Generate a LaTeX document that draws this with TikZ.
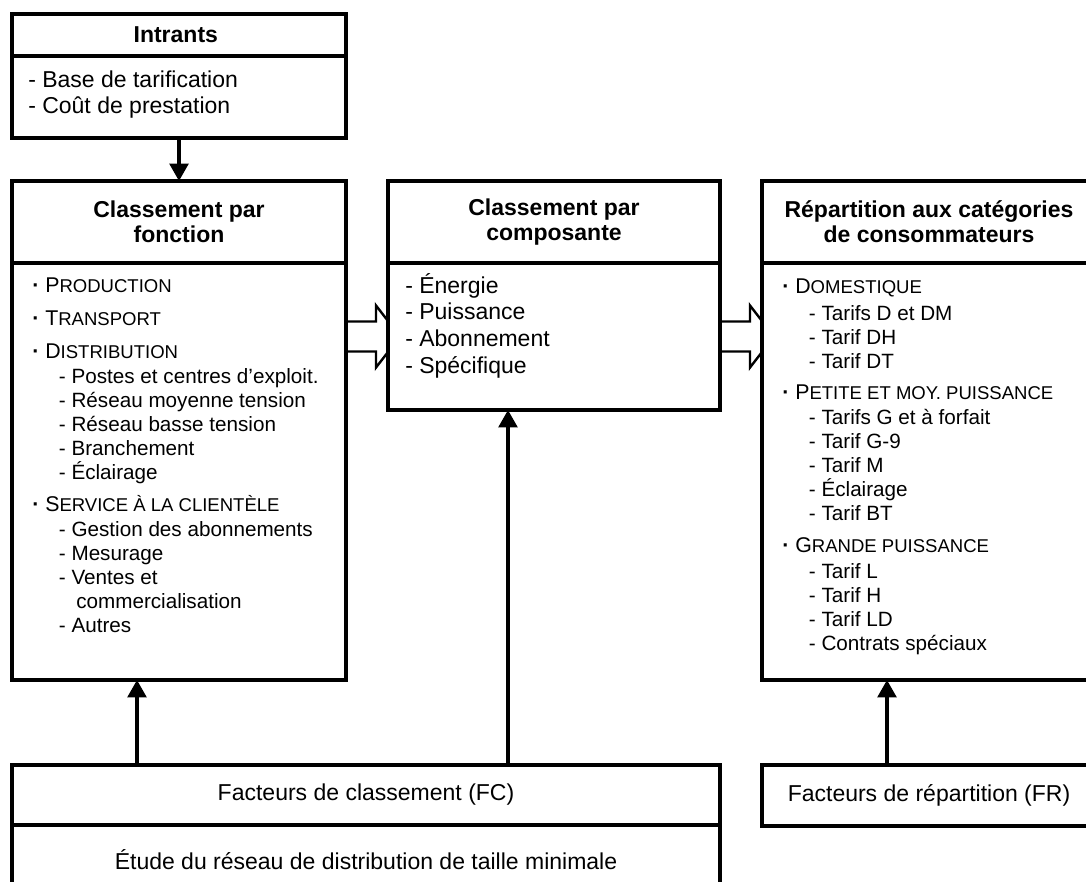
\documentclass[tikz,border=0pt]{standalone}
\usepackage{fontspec}
\setmainfont{Liberation Sans}
\usepackage{tikz}
\usetikzlibrary{arrows.meta, backgrounds}
\newcommand{\categorie}[2]{{\fontsize{16pt}{18pt}\selectfont{\bfseries\textperiodcentered}\ #1{\fontsize{13.9pt}{13pt}\selectfont #2}}}
\newcommand{\souspoint}[1]{\hspace*{20pt}- #1}

\begin{document}
\begin{tikzpicture}[
            x=0.75pt, y=-0.75pt,
            >={Triangle[width=14pt,length=13pt]},
                base/.style = {rectangle, draw=black, line width=2.6pt, fill=white,
                            inner sep=0pt, outer sep=0pt, anchor=north west},
                titlebox/.style = {base, align=center,
                            font=\bfseries\fontsize{17.25pt}{18.75pt}\selectfont},
                bodybox/.style = {base},
                plainbox/.style = {base, font=\fontsize{17.25pt}{20pt}\selectfont},
                listtext/.style = {inner sep=0pt, anchor=north west, align=left},
                upline/.style = {->, line width=2.6pt},
                blockarrow/.style = {line width=1.8pt, fill=white, line join=miter}]
            \useasboundingbox (0,0) rectangle (1086,882);
            \node (Intrants) [titlebox, minimum width=250.5pt, minimum height=31.5pt] at (12,14) {
                Intrants
            };
            \node (IntrantsBody) [bodybox, minimum width=250.5pt, minimum height=61.5pt] at (Intrants.south west) {};
            \node (IntrantsListe) [listtext, font=\fontsize{17.25pt}{19.5pt}\selectfont] at ([shift={(16,8.3)}]IntrantsBody.north west) {
                \rule{0pt}{17pt}- Base de tarification\\
                - Coût de prestation
            };
            \node (ClassementFonction) [titlebox, minimum width=250.5pt, minimum height=61.5pt] at (12,181) {
                Classement par\\fonction
            };
            \node (FonctionBody) [bodybox, minimum width=250.5pt, minimum height=312.75pt] at (ClassementFonction.south west) {};
            \node (FonctionListe) [listtext, font=\fontsize{15.5pt}{18pt}\selectfont] at ([shift={(20,6.3)}]FonctionBody.north west) {
                \rule{0pt}{17pt}\categorie{P}{RODUCTION}\\[6.75pt]
                \categorie{T}{RANSPORT}\\[6.75pt]
                \categorie{D}{ISTRIBUTION}\\[1pt]
                \souspoint{Postes et centres d'exploit.}\\
                \souspoint{Réseau moyenne tension}\\
                \souspoint{Réseau basse tension}\\
                \souspoint{Branchement}\\
                \souspoint{Éclairage}\\[6pt]
                \categorie{S}{ERVICE À LA CLIENTÈLE}\\[1pt]
                \souspoint{Gestion des abonnements}\\
                \souspoint{Mesurage}\\
                \souspoint{Ventes et}\\
                \hspace*{33pt}commercialisation\\
                \souspoint{Autres}
            };
            \node (ClassementComposante) [titlebox, minimum width=249pt, minimum height=61.5pt] at (388,181) {
                Classement par\\composante
            };
            \node (ComposanteBody) [bodybox, minimum width=249pt, minimum height=110.25pt] at (ClassementComposante.south west) {};
            \node (ComposanteListe) [listtext, font=\fontsize{17.25pt}{20pt}\selectfont] at ([shift={(17,7.3)}]ComposanteBody.north west) {
                \rule{0pt}{17pt}- Énergie\\
                - Puissance\\
                - Abonnement\\
                - Spécifique
            };
            \node (Repartition) [titlebox, minimum width=250.5pt, minimum height=61.5pt] at (762,181) {
                Répartition aux catégories\\de consommateurs
            };
            \node (RepartitionBody) [bodybox, minimum width=250.5pt, minimum height=312.75pt] at (Repartition.south west) {};
            \node (RepartitionListe) [listtext, font=\fontsize{15.5pt}{18pt}\selectfont] at ([shift={(20,7.3)}]RepartitionBody.north west) {
                \rule{0pt}{17pt}\categorie{D}{OMESTIQUE}\\[2.25pt]
                \souspoint{Tarifs D et DM}\\
                \souspoint{Tarif DH}\\
                \souspoint{Tarif DT}\\[5.25pt]
                \categorie{P}{ETITE ET MOY. PUISSANCE}\\[1pt]
                \souspoint{Tarifs G et à forfait}\\
                \souspoint{Tarif G-9}\\
                \souspoint{Tarif M}\\
                \souspoint{Éclairage}\\
                \souspoint{Tarif BT}\\[6pt]
                \categorie{G}{RANDE PUISSANCE}\\[1.5pt]
                \souspoint{Tarif L}\\
                \souspoint{Tarif H}\\
                \souspoint{Tarif LD}\\
                \souspoint{Contrats spéciaux}
            };
            \node (FacteursClassement) [plainbox, minimum width=531pt, minimum height=45pt] at (12,765) {
                Facteurs de classement (FC)
            };
            \node (EtudeReseau) [plainbox, minimum width=531pt, minimum height=52.5pt] at (FacteursClassement.south west) {
                Étude du réseau de distribution de taille minimale
            };
            \node (FacteursRepartition) [plainbox, minimum width=250.5pt, minimum height=45.75pt] at (762,765) {
                Facteurs de répartition (FR)
            };
            \draw[upline] (IntrantsBody) -- (ClassementFonction);
            \draw[upline] ([xshift=93.75pt]FacteursClassement.north west) -- ([xshift=93.75pt]FonctionBody.south west);
            \draw[upline] ([xshift=372pt]FacteursClassement.north west) -- ([xshift=90pt]ComposanteBody.south west);
            \draw[upline] ([xshift=93.75pt]FacteursRepartition.north west) -- ([xshift=93.75pt]RepartitionBody.south west);
            \begin{scope}[on background layer]
            \draw[blockarrow] (FonctionBody.east |- ComposanteBody.west) ++(0,-15) -- ++(30,0) -- ++(0,-16)
                -- ++(24,31) -- ++(-24,31) -- ++(0,-16) -- ++(-30,0);
            \draw[blockarrow] (ComposanteBody.east) ++(0,-15) -- ++(30,0) -- ++(0,-16)
                -- ++(24,31) -- ++(-24,31) -- ++(0,-16) -- ++(-30,0);
            \end{scope}
        \end{tikzpicture}
\end{document}
